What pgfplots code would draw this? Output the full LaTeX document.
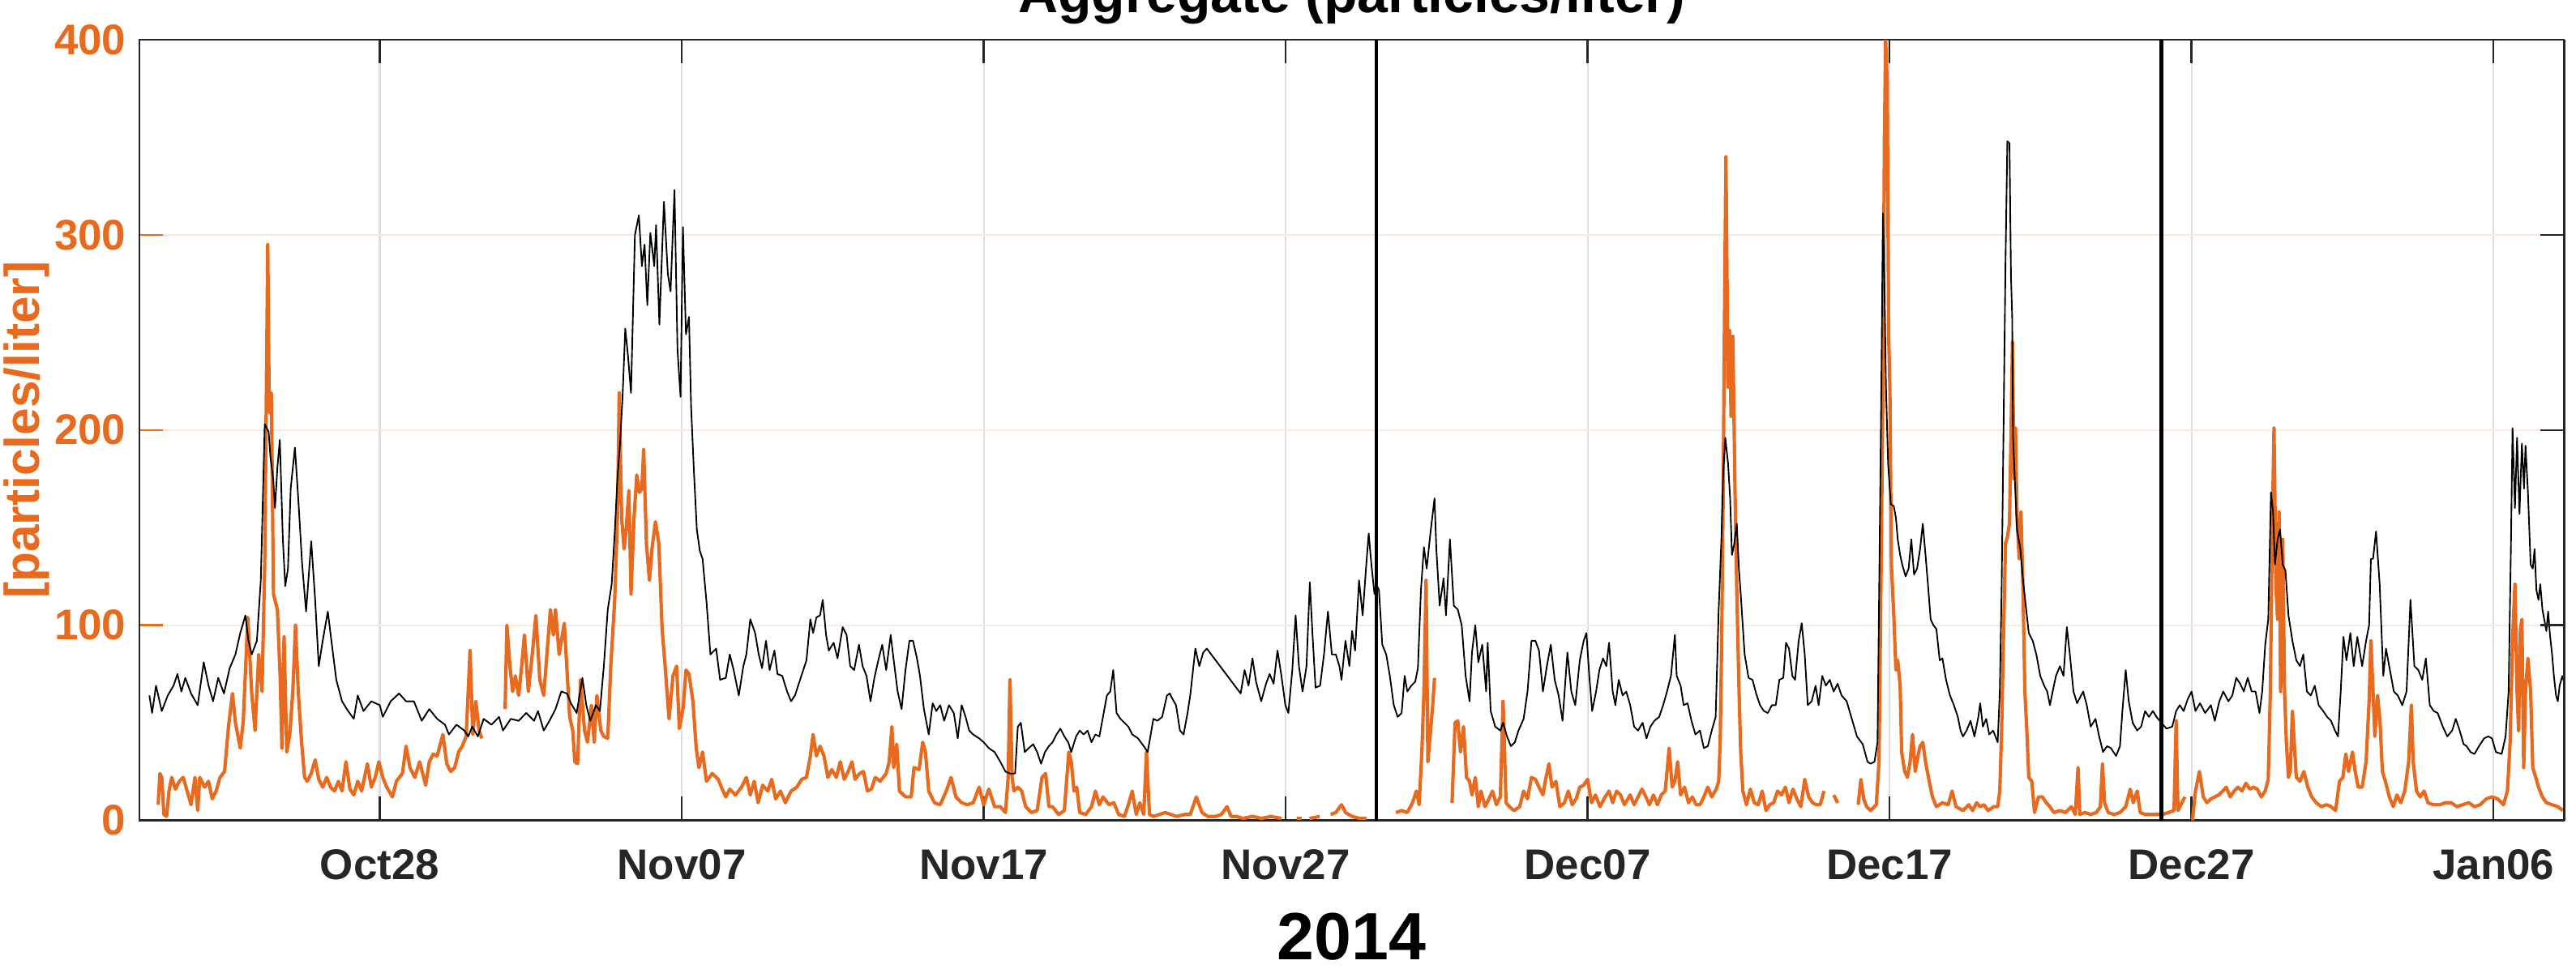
\documentclass[border=0pt]{standalone}
\usepackage{fontspec}
\setmainfont{Liberation Sans}
\usepackage{pgfplots}
\pgfplotsset{compat=1.18}
\usetikzlibrary{calc}
\definecolor{aorange}{RGB}{232,106,30}
\definecolor{tickgray}{RGB}{38,38,38}
\begin{document}
\begin{tikzpicture}
\begin{axis}[
  name=main,
  scale only axis,
  width=717.84pt, height=231.24pt,
  xmin=-7.96, xmax=72.33, ymin=0, ymax=400,
  xtick={0,10,20,30,40,50,60,70},
  xticklabels={Oct28,Nov07,Nov17,Nov27,Dec07,Dec17,Dec27,Jan06},
  ytick={0,100,200,300,400},
  yticklabels={0,100,200,300,400},
  xtick pos=both, ytick pos=left,
  tick align=inside,
  major tick length=7pt,
  xmajorgrids, ymajorgrids,
  every axis x grid/.append style={color=black!13, line width=0.5pt},
  every axis y grid/.append style={color=aorange!15, line width=0.5pt},
  x tick style={draw=tickgray, line width=0.6pt},
  y tick style={draw=aorange, line width=0.6pt},
  axis line style={draw=tickgray, line width=0.7pt},
  xticklabel style={font=\fontsize{12.7}{14}\selectfont\bfseries, text=tickgray, anchor=base, inner sep=0pt, yshift=-17.4pt},
  yticklabel style={font=\fontsize{12.7}{14}\selectfont\bfseries, text=aorange, anchor=east, inner sep=0pt, xshift=-3.8pt},
  unbounded coords=jump,
]
\addplot[aorange, line width=1pt, line join=round] coordinates {
(-7.34,8) (-7.28,24) (-7.22,22) (-7.15,3) (-7.06,2) (-6.98,15) (-6.89,22) (-6.77,16) (-6.64,20) (-6.51,22) (-6.38,15) (-6.25,8) (-6.12,22) (-6.03,5) (-5.96,22) (-5.80,17) (-5.67,20) (-5.55,11) (-5.42,15) (-5.29,22) (-5.14,25) (-5.01,48) (-4.88,65) (-4.78,50) (-4.62,37) (-4.52,51) (-4.37,104) (-4.24,65) (-4.13,46) (-4.01,85) (-3.90,66) (-3.81,131) (-3.71,295) (-3.66,209) (-3.59,219) (-3.52,116) (-3.39,108) (-3.30,74) (-3.24,37) (-3.17,94) (-3.08,35) (-2.98,44) (-2.88,66) (-2.79,100) (-2.70,66) (-2.59,40) (-2.49,22) (-2.40,20) (-2.27,24) (-2.14,31) (-2.02,21) (-1.89,17) (-1.76,22) (-1.63,17) (-1.50,15) (-1.37,20) (-1.25,15) (-1.12,30) (-0.99,16) (-0.86,13) (-0.73,20) (-0.60,15) (-0.41,29) (-0.28,17) (-0.15,22) (-0.03,30) (0.10,22) (0.23,17) (0.42,12) (0.55,20) (0.75,24) (0.87,38) (1.00,27) (1.16,22) (1.32,30) (1.52,18) (1.64,30) (1.77,34) (1.90,33) (2.09,44) (2.22,29) (2.35,25) (2.48,27) (2.61,35) (2.73,38) (2.86,43) (2.99,87) (3.08,44) (3.18,61) (3.29,46) (3.38,42)
(3.7,nan)
(4.15,57) (4.21,100) (4.31,79) (4.40,66) (4.49,74) (4.60,64) (4.70,79) (4.79,95) (4.92,66) (5.05,85) (5.17,105) (5.30,72) (5.43,64) (5.56,90) (5.65,108) (5.75,95) (5.82,108) (5.94,85) (6.11,101) (6.20,77) (6.29,53) (6.39,46) (6.46,30) (6.55,29) (6.65,72) (6.78,46) (6.88,40) (7.01,59) (7.10,40) (7.19,64) (7.32,46) (7.42,43) (7.55,42) (7.65,79) (7.78,113) (7.87,155) (7.93,219) (8.01,155) (8.09,139) (8.16,149) (8.25,169) (8.32,116) (8.42,155) (8.51,177) (8.60,168) (8.68,170) (8.74,190) (8.83,142) (8.93,123) (9.02,140) (9.13,153) (9.24,142) (9.35,98) (9.45,79) (9.58,52) (9.71,74) (9.83,79) (9.92,47) (10.05,58) (10.14,77) (10.24,75) (10.37,61) (10.48,37) (10.57,27) (10.69,35) (10.82,20) (11.01,24) (11.21,21) (11.34,16) (11.46,12) (11.59,16) (11.78,13) (11.98,17)
(12.14,22) (12.27,13) (12.40,20) (12.53,9) (12.68,18) (12.85,15) (12.98,21) (13.11,11) (13.27,15) (13.43,9) (13.62,15) (13.81,17) (13.97,21) (14.13,22) (14.26,33) (14.35,44) (14.46,33) (14.58,38) (14.71,33) (14.84,22) (14.97,26) (15.12,22) (15.25,30) (15.38,21) (15.51,25) (15.64,30) (15.74,21) (15.89,24) (16.02,25) (16.15,15) (16.28,16) (16.41,22) (16.57,20) (16.77,24) (16.87,30) (16.96,48) (17.02,27) (17.12,39) (17.21,15) (17.41,12) (17.60,12) (17.69,27) (17.86,26) (17.98,40) (18.07,35) (18.18,15) (18.37,9) (18.56,8) (18.76,15) (18.92,22) (19.08,12) (19.27,9) (19.46,8) (19.65,9) (19.85,17) (20.00,8) (20.17,16) (20.36,7) (20.55,7) (20.72,4) (20.81,22) (20.87,72) (20.94,22) (21.00,15) (21.13,17) (21.26,15) (21.39,7) (21.58,4) (21.77,5) (21.93,22) (22.05,24) (22.16,7) (22.28,7) (22.48,3) (22.67,5) (22.82,35) (22.90,30) (22.99,15) (23.08,17) (23.18,4) (23.38,3) (23.57,7) (23.70,15) (23.83,8) (23.95,12) (24.15,8) (24.31,9) (24.47,3) (24.66,2) (24.79,8) (24.92,15) (25.05,3) (25.17,9) (25.30,3) (25.39,35) (25.49,3) (25.62,2) (25.82,3) (26.01,4) (26.20,3) (26.39,2) (26.65,3) (26.84,3) (27.04,12) (27.23,4) (27.42,2) (27.68,2) (27.87,3) (28.06,7) (28.19,2) (28.38,2) (28.58,1) (28.9,2) (29.2,1) (29.5,2) (29.86,1)
(30.1,nan)
(30.36,1) (30.53,1)
(30.65,nan)
(30.79,1) (31.13,2)
(31.3,nan)
(31.49,3) (31.66,4) (31.85,8) (31.98,4) (32.2,2) (32.45,1) (32.68,1)
(33.2,nan)
(33.65,4) (33.84,5) (34.03,4) (34.20,9) (34.33,15) (34.42,8) (34.51,35) (34.58,66) (34.65,123) (34.71,30) (34.80,46) (34.87,59) (34.93,73)
(35.2,nan)
(35.51,9) (35.61,50) (35.70,51) (35.79,35) (35.89,48) (35.99,22) (36.09,20) (36.17,13) (36.28,22) (36.38,7) (36.47,15) (36.60,7) (36.73,11) (36.85,15) (36.98,8) (37.11,12) (37.20,61) (37.30,9) (37.41,7) (37.56,5) (37.75,7) (37.88,15) (38.01,11) (38.14,22) (38.27,21) (38.39,17) (38.52,13) (38.61,21) (38.72,29) (38.82,17) (38.95,20) (39.08,7) (39.23,9) (39.36,15) (39.49,8) (39.62,11) (39.74,17) (39.87,18) (40.00,21) (40.13,9) (40.26,13) (40.41,7) (40.58,12) (40.71,15) (40.83,9) (40.96,15) (41.09,13) (41.22,8) (41.41,13) (41.54,8) (41.80,16) (41.93,12) (42.05,8) (42.18,13) (42.31,8) (42.44,13) (42.57,15) (42.70,37) (42.80,17) (42.89,20) (42.98,30) (43.08,13) (43.21,17) (43.34,9) (43.47,12) (43.59,8) (43.72,8) (43.85,12) (43.98,17) (44.11,12) (44.26,16) (44.34,20) (44.39,40) (44.44,92) (44.49,170) (44.53,253) (44.58,340) (44.65,222) (44.70,251) (44.75,207) (44.81,248) (44.88,170) (44.94,118) (45.01,69) (45.07,35) (45.14,15) (45.26,8) (45.39,16) (45.52,9) (45.65,8) (45.78,15) (45.91,5) (46.03,8) (46.16,9) (46.29,15) (46.42,13) (46.55,17) (46.67,9) (46.80,16) (46.93,11) (47.06,7) (47.19,21) (47.32,12) (47.45,9) (47.57,8) (47.70,8) (47.83,15)
(48.0,nan)
(48.15,13) (48.28,9)
(48.6,nan)
(48.96,8) (49.05,21) (49.14,11) (49.24,7) (49.37,5) (49.56,8) (49.65,30) (49.73,144) (49.78,222) (49.83,352) (49.87,400) (49.92,378) (49.97,248) (50.01,222) (50.06,131) (50.14,105) (50.21,77) (50.27,82) (50.35,69) (50.40,35) (50.50,25) (50.59,22) (50.68,30) (50.76,44) (50.85,25) (50.94,33) (51.01,38) (51.10,40) (51.19,30) (51.30,21) (51.42,12) (51.55,7) (51.75,9) (51.94,8) (52.07,15) (52.20,7)
(52.43,5) (52.62,8) (52.75,5) (52.88,9) (53.00,7) (53.13,8) (53.26,5) (53.45,7) (53.58,7) (53.65,15) (53.71,46) (53.77,92) (53.84,142) (53.90,145) (53.97,152) (54.02,196) (54.07,245) (54.12,175) (54.17,201) (54.22,155) (54.29,134) (54.35,158) (54.42,118) (54.48,66) (54.54,48) (54.61,22) (54.71,20) (54.80,4) (54.93,12) (55.06,12) (55.19,9) (55.31,7) (55.44,4) (55.64,5) (55.83,4) (56.02,7) (56.15,3) (56.24,27) (56.30,3) (56.47,4) (56.66,3) (56.85,4) (56.98,7) (57.05,29) (57.12,9) (57.24,4) (57.43,3) (57.63,4) (57.82,7) (57.97,16) (58.07,9) (58.20,15) (58.30,4) (58.46,3) (58.65,3) (58.84,3) (59.04,3) (59.23,4) (59.42,5) (59.49,51) (59.55,5) (59.68,9) (59.78,12)
(59.9,nan)
(60.03,0) (60.13,15) (60.26,25) (60.39,12) (60.51,9) (60.64,11) (60.77,12) (60.90,13) (61.03,15) (61.15,17) (61.28,12) (61.41,15) (61.54,17) (61.67,15) (61.80,19) (61.93,16) (62.05,17) (62.18,16) (62.31,12) (62.44,15) (62.54,21) (62.61,66) (62.67,144) (62.73,201) (62.80,118) (62.85,103) (62.90,158) (62.95,66) (63.02,144) (63.08,66) (63.14,40) (63.21,22) (63.27,25) (63.34,56) (63.40,40) (63.47,22) (63.59,20) (63.72,25) (63.85,17) (63.98,12) (64.13,9) (64.30,7) (64.47,8) (64.62,7) (64.77,5) (64.90,20) (65.01,22) (65.11,34) (65.20,25) (65.33,35) (65.42,25) (65.52,17) (65.65,17) (65.78,30) (65.88,61) (65.94,92) (66.01,66) (66.07,43) (66.16,64) (66.24,51) (66.32,25) (66.42,20) (66.55,12) (66.68,7) (66.80,13) (66.93,9) (67.06,15) (67.19,30) (67.28,59) (67.34,30) (67.45,15) (67.57,12) (67.70,15) (67.83,9) (68.02,8) (68.22,8) (68.41,9) (68.60,9) (68.79,7) (68.98,8) (69.18,9) (69.37,7) (69.56,8) (69.76,11) (69.95,12) (70.14,11) (70.33,8) (70.46,15) (70.55,40) (70.63,92) (70.71,121) (70.78,66) (70.83,46) (70.89,98) (70.94,103) (71.00,27) (71.06,66) (71.14,83) (71.23,66) (71.30,27) (71.40,22) (71.49,17) (71.62,12) (71.75,9) (71.94,8) (72.13,7) (72.30,5)
};
\addplot[black, line width=0.45pt, line join=round] coordinates {
(-7.63,64) (-7.54,55) (-7.41,69) (-7.22,56) (-7.02,64) (-6.83,69) (-6.70,75) (-6.57,66) (-6.44,73) (-6.25,65) (-6.03,59) (-5.83,81) (-5.67,69) (-5.52,61) (-5.35,73) (-5.16,65) (-4.97,78) (-4.78,85) (-4.62,96) (-4.45,105) (-4.35,92) (-4.24,85) (-4.07,92) (-3.94,123) (-3.81,203) (-3.68,199) (-3.62,186) (-3.53,175) (-3.47,160) (-3.39,181) (-3.31,195) (-3.21,144) (-3.13,120) (-3.04,129) (-2.95,170) (-2.81,191) (-2.70,165) (-2.57,131) (-2.44,107) (-2.27,143) (-2.14,113) (-2.02,79) (-1.89,92) (-1.72,107) (-1.57,88) (-1.44,72) (-1.25,61) (-1.05,56) (-0.86,52) (-0.73,64) (-0.54,56) (-0.28,61) (0,59) (0.10,53) (0.36,61) (0.64,65) (0.87,61) (1.13,61) (1.39,51) (1.64,57) (1.90,52) (2.16,49) (2.29,44) (2.54,49) (2.80,46) (2.93,43) (3.06,48) (3.25,43) (3.44,52) (3.70,49) (3.95,53) (4.08,46) (4.34,52) (4.60,51) (4.85,55) (5.11,51) (5.24,56) (5.43,46) (5.62,51) (5.82,57) (6.01,66) (6.20,65) (6.33,60) (6.52,55) (6.71,73) (6.84,59) (6.97,51) (7.16,59) (7.29,56) (7.42,79) (7.55,108) (7.68,121) (7.78,147) (7.87,175) (7.96,194) (8.04,217) (8.13,252) (8.22,238) (8.32,219) (8.45,300) (8.58,310) (8.68,284) (8.77,295) (8.86,264) (8.96,301) (9.09,284) (9.15,305) (9.26,254) (9.41,317) (9.54,280) (9.63,271) (9.76,323) (9.86,241) (9.96,217) (10.04,304) (10.14,249) (10.24,258) (10.31,212) (10.40,180) (10.50,149) (10.60,138) (10.69,134) (10.82,112) (10.95,85) (11.14,88) (11.27,72) (11.46,73) (11.59,85) (11.72,77) (11.89,64) (12.04,79)
(12.14,85) (12.27,103) (12.43,96) (12.55,85) (12.66,78) (12.79,92) (12.91,77) (13.07,87) (13.17,75) (13.33,74) (13.49,66) (13.62,61) (13.75,64) (13.94,73) (14.13,82) (14.26,103) (14.35,96) (14.46,104) (14.58,105) (14.67,113) (14.78,95) (14.87,87) (15.03,91) (15.16,83) (15.33,99) (15.46,95) (15.58,79) (15.71,77) (15.87,90) (15.99,79) (16.12,74) (16.25,61) (16.38,73) (16.51,82) (16.64,90) (16.77,77) (16.92,95) (17.02,82) (17.15,66) (17.28,57) (17.41,77) (17.54,92) (17.66,92) (17.79,83) (17.89,74) (18.02,57) (18.18,44) (18.31,60) (18.43,56) (18.56,59) (18.69,51) (18.85,59) (19.01,55) (19.14,42) (19.27,59) (19.40,53) (19.52,46) (19.65,44) (19.85,42) (20.00,40) (20.17,37) (20.36,35) (20.55,30) (20.72,25) (20.87,24) (21.04,24) (21.13,48) (21.23,50) (21.36,35) (21.49,37) (21.64,39) (21.77,35) (21.90,29) (22.03,35) (22.16,38) (22.28,40) (22.41,44) (22.54,47) (22.67,43) (22.80,40) (22.90,35) (23.06,43) (23.18,46) (23.31,44) (23.44,46) (23.57,40) (23.70,44) (23.83,43) (23.95,53) (24.08,64) (24.19,66) (24.29,77) (24.40,55) (24.53,52) (24.66,50) (24.79,48) (24.92,44) (25.11,42) (25.30,38) (25.43,35) (25.52,43) (25.62,52) (25.75,51) (25.91,53) (26.07,64) (26.16,65) (26.26,62) (26.37,59) (26.50,46) (26.62,44) (26.75,55) (26.84,64) (27.01,88) (27.14,79) (27.27,86) (27.39,88) (28.51,65) (28.64,77) (28.77,69) (28.90,83) (29.02,71) (29.19,61) (29.35,70) (29.47,75) (29.60,70) (29.73,87) (29.86,74) (29.99,59) (30.09,55) (30.22,77) (30.33,105) (30.44,79) (30.56,66) (30.69,79) (30.80,122) (30.89,95) (30.99,68) (31.14,69) (31.27,85) (31.40,107) (31.53,85) (31.66,85) (31.78,79) (31.85,72) (31.98,92) (32.11,79) (32.20,97)
(32.30,87) (32.43,123) (32.55,105) (32.66,129) (32.75,147) (32.84,131) (32.94,116) (33.00,121) (33.09,118) (33.20,90) (33.33,85) (33.45,74) (33.58,59) (33.71,53) (33.84,55) (33.94,74) (34.03,66) (34.16,69) (34.29,71) (34.38,78) (34.48,118) (34.58,140) (34.67,129) (34.80,148) (34.93,165) (34.99,139) (35.10,110) (35.23,124) (35.31,105) (35.44,144) (35.57,110) (35.70,108) (35.83,100) (35.96,74) (36.09,61) (36.17,86) (36.28,100) (36.38,81) (36.51,90) (36.64,66) (36.69,91) (36.79,56) (36.94,48) (37.11,46) (37.20,50) (37.33,43) (37.46,38) (37.59,40) (37.71,46) (37.88,52) (38.01,66) (38.14,92) (38.27,92) (38.39,87) (38.52,66) (38.65,79) (38.78,90) (38.91,72) (39.04,64) (39.17,51) (39.33,86) (39.46,66) (39.59,59) (39.74,82) (39.87,92) (39.96,96) (40.06,73) (40.15,56) (40.28,66) (40.39,77) (40.51,83) (40.62,79) (40.71,91) (40.83,66) (40.92,59) (41.03,72) (41.16,64) (41.28,66) (41.41,59) (41.54,48) (41.67,46) (41.82,50) (41.95,42) (42.08,48) (42.21,51) (42.37,53) (42.50,59) (42.63,66) (42.76,74) (42.89,95) (42.95,74) (43.08,69) (43.18,59) (43.31,60) (43.44,51) (43.57,44) (43.72,46) (43.85,37) (43.98,38) (44.11,46) (44.24,53) (44.34,108) (44.43,144) (44.49,178) (44.56,196) (44.65,183) (44.72,165) (44.78,136) (44.85,141) (44.94,152) (45.01,129) (45.07,116) (45.20,85) (45.33,73) (45.46,72) (45.58,65) (45.71,59) (45.84,56) (45.97,55) (46.10,59) (46.23,59) (46.35,72) (46.48,73) (46.57,91) (46.67,88) (46.78,74) (46.87,72) (46.99,92) (47.09,101) (47.19,85) (47.29,59) (47.42,61) (47.55,69) (47.65,59) (47.77,74) (47.89,69) (48.02,72) (48.15,66) (48.28,70) (48.41,64) (48.58,61) (48.73,53) (48.92,43) (49.11,39) (49.27,30) (49.37,29) (49.50,30) (49.60,40) (49.67,139) (49.73,227) (49.78,311) (49.83,275) (49.88,222) (49.95,183) (50.04,162) (50.14,161) (50.21,155) (50.27,144) (50.35,136) (50.42,131) (50.53,125) (50.63,129) (50.72,144) (50.81,126) (50.91,129) (51.01,139) (51.10,152) (51.19,136) (51.27,121) (51.36,103) (51.45,100) (51.55,98) (51.66,82) (51.75,83) (51.87,72) (52.00,64) (52.13,59) (52.26,53) (52.35,46) (52.43,43)
(52.55,46) (52.68,51) (52.81,43) (52.94,53) (53.00,60) (53.09,48) (53.20,52) (53.30,44) (53.43,46) (53.58,40) (53.65,66) (53.71,118) (53.77,196) (53.84,287) (53.90,348) (53.97,347) (54.02,279) (54.06,258) (54.09,196) (54.16,170) (54.22,149) (54.33,139) (54.42,123) (54.51,110) (54.61,96) (54.74,92) (54.86,85) (54.99,74) (55.12,69) (55.22,66) (55.31,59) (55.40,66) (55.51,74) (55.64,79) (55.76,74) (55.87,99) (55.97,85) (56.09,66) (56.21,60) (56.41,66) (56.53,59) (56.66,48) (56.82,52) (56.94,43) (57.07,35) (57.20,38) (57.33,37) (57.50,33) (57.63,38) (57.71,56) (57.82,77) (57.92,61) (58.05,50) (58.20,46) (58.33,48) (58.46,56) (58.59,53) (58.72,56) (58.84,53) (59.00,50) (59.17,47) (59.36,48) (59.49,56) (59.61,59) (59.74,56) (59.87,62) (60.00,66) (60.13,56) (60.28,60) (60.45,55) (60.64,59) (60.77,51) (60.92,61) (61.05,66) (61.22,61) (61.35,64) (61.48,73) (61.61,70) (61.73,66) (61.86,73) (61.99,66) (62.12,66) (62.25,55) (62.34,66) (62.44,90) (62.54,103) (62.63,168) (62.70,158) (62.76,131) (62.85,144) (62.93,149) (63.02,131) (63.11,128) (63.21,105) (63.34,92) (63.47,82) (63.59,79) (63.70,85) (63.82,66) (63.95,64) (64.08,69) (64.21,59) (64.36,56) (64.49,53) (64.62,51) (64.75,46) (64.85,43) (64.94,66) (65.03,94) (65.13,82) (65.26,96) (65.37,79) (65.49,94) (65.65,79) (65.78,92) (65.88,100) (65.94,134) (66.01,134) (66.11,148) (66.23,121) (66.35,74) (66.44,88) (66.57,77) (66.70,66) (66.83,64) (66.98,59) (67.12,66) (67.25,113) (67.38,79) (67.51,77) (67.64,72) (67.76,83) (67.89,59) (68.02,56) (68.15,55) (68.32,48) (68.47,43) (68.63,46) (68.75,52) (68.88,46) (69.01,39) (69.11,38) (69.24,35) (69.37,34) (69.52,38) (69.69,42) (69.82,43) (69.95,42) (70.08,35) (70.27,34) (70.40,43) (70.50,66) (70.58,144) (70.63,201) (70.71,160) (70.78,196) (70.86,157) (70.94,193) (71.01,170) (71.06,192) (71.14,168) (71.23,131) (71.30,129) (71.36,139) (71.42,118) (71.49,113) (71.55,121) (71.62,108) (71.68,103) (71.75,97) (71.81,107) (71.87,95) (71.94,85) (72.00,74) (72.07,64) (72.13,61) (72.19,69) (72.28,74) (72.35,70)
};
\addplot[black, line width=1pt] coordinates {(33,0) (33,400)};
\addplot[black, line width=1pt] coordinates {(59,0) (59,400)};
\end{axis}
\begin{axis}[
  at={(main.south west)}, anchor=south west,
  scale only axis,
  width=717.84pt, height=231.24pt,
  xmin=-7.96, xmax=72.33, ymin=0, ymax=400,
  hide x axis,
  axis y line*=right,
  ytick={0,100,200,300,400}, yticklabels={},
  tick align=inside, major tick length=7pt,
  y tick style={draw=tickgray, line width=0.6pt},
  axis line style={draw=tickgray, line width=0.7pt},
]
\end{axis}
\node[anchor=base, font=\fontsize{16.3}{18}\selectfont\bfseries] at ($(main.north)+(0,8.16pt)$) {Aggregate (particles/liter)};
\node[anchor=base, font=\fontsize{19.8}{22}\selectfont\bfseries] at ($(main.south)+(0,-41.16pt)$) {2014};
\node[anchor=base, rotate=90, font=\fontsize{14.5}{16}\selectfont\bfseries, text=aorange] at ($(main.west)+(-29.76pt,0)$) {[particles/liter]};
\pgfresetboundingbox
\path[use as bounding box] ($(main.south west)+(-41.28pt,-43.8pt)$) rectangle ($(main.north east)+(3.6pt,11.76pt)$);
\end{tikzpicture}
\end{document}
